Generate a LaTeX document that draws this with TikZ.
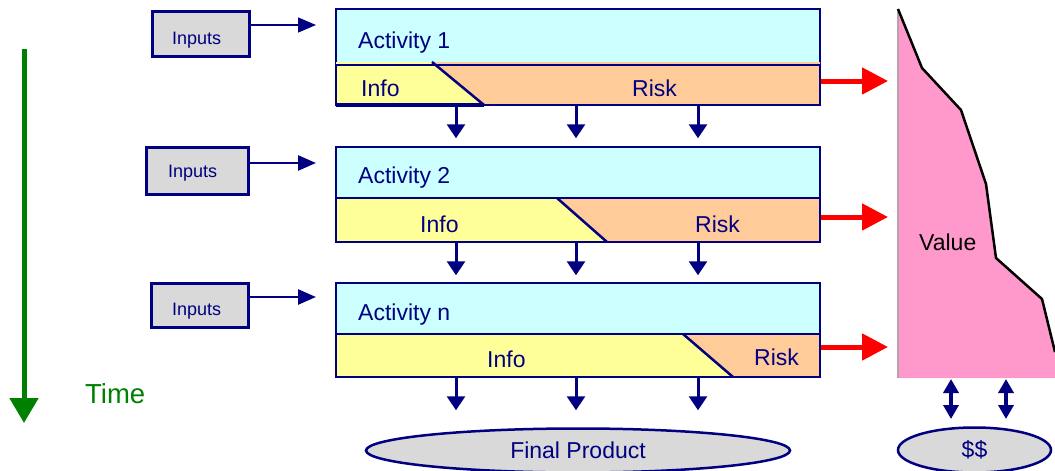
\documentclass[tikz,border=0pt]{standalone}
\usepackage{fontspec}
\setmainfont{Liberation Sans}
\usetikzlibrary{arrows.meta,shapes.geometric}

\definecolor{navy}{HTML}{000080}
\definecolor{actcyan}{HTML}{CCFFFF}
\definecolor{infoyellow}{HTML}{FFFF99}
\definecolor{riskorange}{HTML}{FFCC99}
\definecolor{boxgray}{HTML}{D9D9D9}
\definecolor{valuepink}{HTML}{FF99CC}
\definecolor{timegreen}{HTML}{008000}
\definecolor{edgegray}{HTML}{B8A0AC}

\tikzset{
  txt/.style={inner sep=0pt, anchor=base west, text=navy, font=\fontsize{23}{23}\selectfont},
  smalltxt/.style={txt, font=\fontsize{18}{18}\selectfont},
  inbox/.style={draw=navy, line width=3pt, fill=boxgray, inner sep=0pt},
  actbox/.style={draw=navy, line width=2.5pt, fill=actcyan, inner sep=0pt, minimum width=484pt},
  bandbox/.style={draw=navy, line width=2.5pt, inner sep=0pt, minimum width=484pt},
  oval/.style={ellipse, draw=navy, line width=2.5pt, fill=boxgray, inner sep=0pt, text=navy,
               font=\fontsize{23}{23}\selectfont},
  inarrow/.style={draw=navy, line width=2.5pt, -{Triangle[length=18pt,width=15pt]}},
  thininarrow/.style={inarrow, line width=1.3pt},
  downarrow/.style={draw=navy, line width=3pt, -{Triangle[length=14pt,width=18pt]}},
  riskarrow/.style={draw=red, line width=5pt, -{Triangle[length=26pt,width=26pt]}},
  dblarrow/.style={draw=navy, line width=3.5pt,
                   {Triangle[length=14pt,width=15pt]}-{Triangle[length=14pt,width=15pt]}},
}

\begin{document}
\begin{tikzpicture}[x=1pt, y=-1pt]
\useasboundingbox (0,0) rectangle (1055,471);

% ---- time axis ----
\coordinate (t0) at (24,49);
\coordinate (t1) at (24,423);
\draw[draw=timegreen, line width=5pt, -{Triangle[length=25pt,width=28pt]}] (t0) -- (t1);
\node[txt, text=timegreen, font=\fontsize{27.5}{27.5}\selectfont] (time) at (85,403) {Time};

% ---- inputs ----
\node[inbox, minimum width=97pt, minimum height=45pt] (in1) at (200.5,33.5) {};
\node[smalltxt] (in1t) at (172,44) {Inputs};
\node[inbox, minimum width=102pt, minimum height=47pt] (in2) at (197,170.5) {};
\node[smalltxt] (in2t) at (168,177) {Inputs};
\node[inbox, minimum width=97pt, minimum height=44pt] (in3) at (199.5,305) {};
\node[smalltxt] (in3t) at (172,315) {Inputs};

\coordinate (e1) at (316,25);
\coordinate (e2) at (316,163);
\coordinate (e3) at (316,297);
\draw[thininarrow] ([yshift=8.5pt]in1.east) -- (e1);
\draw[inarrow] ([yshift=7.5pt]in2.east) -- (e2);
\draw[inarrow] ([yshift=8pt]in3.east) -- (e3);

% ---- activity 1 ----
\node[actbox, minimum height=56pt] (act1) at (578,37) {};
\fill[infoyellow] (336,62) -- (432,62) -- (484,105) -- (336,105) -- cycle;
\fill[riskorange] (432,62) -- (820,62) -- (820,105) -- (484,105) -- cycle;
\draw[navy, line width=2.5pt] (432,62) -- (484,105);
\node[bandbox, minimum height=40pt] (band1) at (578,85) {};
\draw[navy, line width=4pt] (336,105) -- (484,105);
\node[txt] (act1t) at (358,48) {Activity 1};
\node[txt] (info1) at (361,96) {Info};
\node[txt] (risk1) at (632,96) {Risk};

% ---- activity 2 ----
\node[actbox, minimum height=51pt] (act2) at (578,172.5) {};
\fill[infoyellow] (336,198) -- (557,198) -- (607,242) -- (336,242) -- cycle;
\fill[riskorange] (557,198) -- (820,198) -- (820,242) -- (607,242) -- cycle;
\draw[navy, line width=2.5pt] (557,198) -- (607,242);
\node[bandbox, minimum height=44pt] (band2) at (578,220) {};
\node[txt] (act2t) at (358,183) {Activity 2};
\node[txt] (info2) at (420,232) {Info};
\node[txt] (risk2) at (695,232) {Risk};

% ---- activity n ----
\node[actbox, minimum height=51pt] (actn) at (578,308.5) {};
\fill[infoyellow] (336,334) -- (683,334) -- (733,377) -- (336,377) -- cycle;
\fill[riskorange] (683,334) -- (820,334) -- (820,377) -- (733,377) -- cycle;
\draw[navy, line width=2.5pt] (683,334) -- (733,377);
\node[bandbox, minimum height=43pt] (bandn) at (578,355.5) {};
\node[txt] (actnt) at (358,320) {Activity n};
\node[txt] (infon) at (487,367) {Info};
\node[txt] (riskn) at (754,365) {Risk};

% ---- outputs flowing down ----
\foreach \b in {band1,band2,bandn}{
  \foreach \x in {456,576,698}{
    \draw[downarrow] (\b.south -| \x,0) -- ++(0,32);
  }
}

% ---- risk feeding value ----
\coordinate (r1) at (888,81);
\coordinate (r2) at (888,217);
\coordinate (r3) at (888,347);
\draw[riskarrow] ([yshift=4pt]band1.east) -- (r1);
\draw[riskarrow] ([yshift=3pt]band2.east) -- (r2);
\draw[riskarrow] ([yshift=8.5pt]bandn.east) -- (r3);

% ---- value curve ----
\fill[valuepink] (898,9) -- (922,68) -- (961,110) -- (986,184) -- (996,258)
  -- (1042,299) -- (1055,352) -- (1055,378) -- (898,378) -- cycle;
\draw[edgegray, line width=1.5pt] (898,9) -- (898,378);
\draw[black, line width=2.5pt, line join=round] (898,9) -- (922,68) -- (961,110)
  -- (986,184) -- (996,258) -- (1042,299) -- (1055,352);
\node[txt, text=black] (value) at (919,250) {Value};

% ---- final product and money ----
\node[oval, minimum width=424pt, minimum height=44pt] (final) at (578,450.5) {Final Product};
\node[oval, minimum width=153pt, minimum height=45pt] (money) at (974.5,450) {\$\$};

\coordinate (m1a) at (951,379);
\coordinate (m1b) at (951,419);
\coordinate (m2a) at (1006,379);
\coordinate (m2b) at (1006,419);
\draw[dblarrow] (m1a) -- (m1b);
\draw[dblarrow] (m2a) -- (m2b);
\end{tikzpicture}
\end{document}
